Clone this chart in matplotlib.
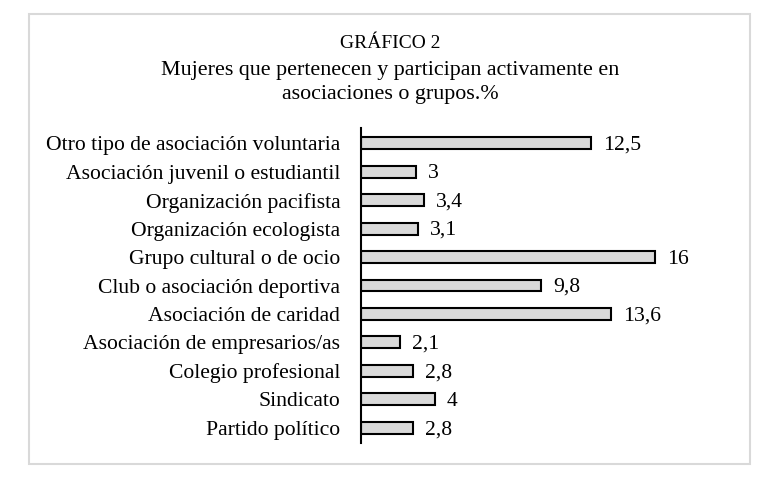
import matplotlib
matplotlib.use("Agg")
import matplotlib.pyplot as plt
from matplotlib.patches import Rectangle

categories = [
    "Otro tipo de asociación voluntaria",
    "Asociación juvenil o estudiantil",
    "Organización pacifista",
    "Organización ecologista",
    "Grupo cultural o de ocio",
    "Club o asociación deportiva",
    "Asociación de caridad",
    "Asociación de empresarios/as",
    "Colegio profesional",
    "Sindicato",
    "Partido político",
]
values = [12.5, 3, 3.4, 3.1, 16, 9.8, 13.6, 2.1, 2.8, 4, 2.8]
value_labels = ["12,5", "3", "3,4", "3,1", "16", "9,8", "13,6", "2,1", "2,8", "4", "2,8"]

plt.rcParams['font.family'] = ['Liberation Serif', 'DejaVu Serif']

W, H = 782, 484
fig = plt.figure(figsize=(W / 100, H / 100), dpi=100)

# outer border
fig.patches.append(Rectangle((29.5 / W, 1 - 464 / H), (750 - 29.5) / W, (464 - 14) / H,
                             transform=fig.transFigure, fill=False,
                             edgecolor="#d9d9d9", linewidth=1.5))

ax = fig.add_axes([361 / W, 1 - 443 / H, (720 - 361) / W, (443 - 128) / H])
ypos = list(range(len(categories)))
ax.barh(ypos, values, height=0.42, color="#d9d9d9", edgecolor="black", linewidth=1.5)
ax.set_ylim(len(categories) - 1 + 0.53, -0.53)
ax.set_xlim(0, (720 - 361) / 18.4)
ax.set_yticks(ypos)
ax.set_yticklabels(categories, fontsize=15.6)
ax.tick_params(axis='y', length=0, pad=15)
ax.set_xticks([])
for s in ["top", "right", "bottom"]:
    ax.spines[s].set_visible(False)
ax.spines["left"].set_linewidth(1.5)

for y, v, lab in zip(ypos, values, value_labels):
    ax.annotate(lab, (v, y), xytext=(12, -2), textcoords="offset pixels",
                va="center", ha="left", fontsize=15.6)

fig.text(390 / W, 1 - 43 / H, "GRÁFICO 2", ha="center", va="center", fontsize=14)
fig.text(390 / W, 1 - 70 / H, "Mujeres que pertenecen y participan activamente en",
         ha="center", va="center", fontsize=15.8)
fig.text(390 / W, 1 - 94 / H, "asociaciones o grupos.%", ha="center", va="center", fontsize=15.8)

fig.savefig("out.png", dpi=100)
